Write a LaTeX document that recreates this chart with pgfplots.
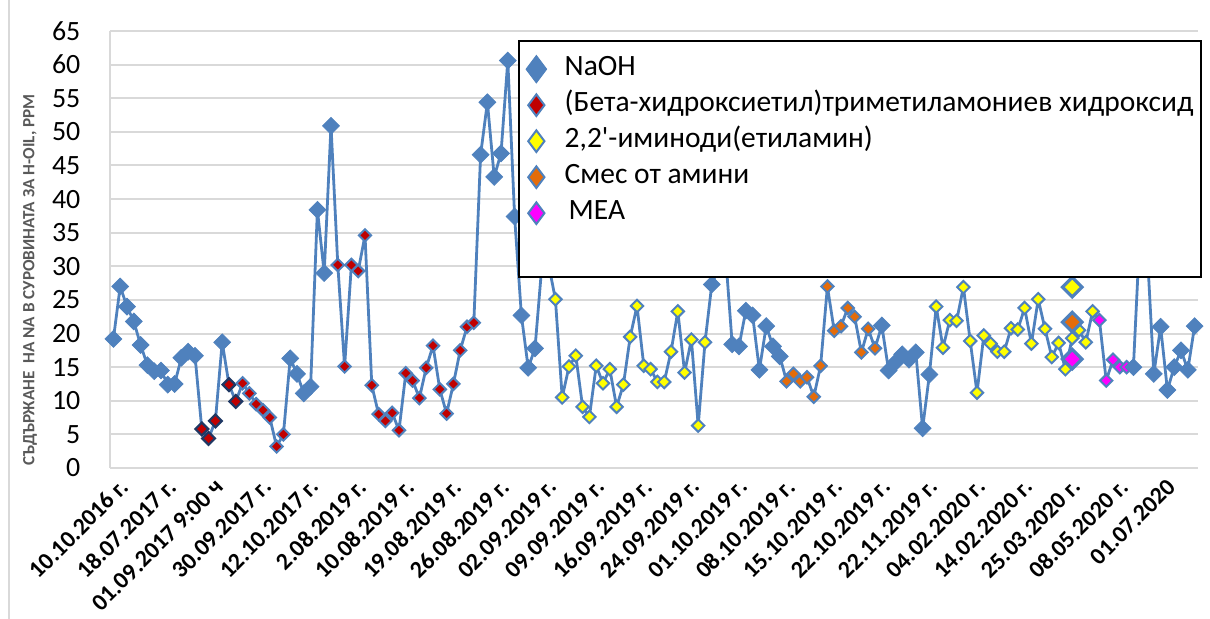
\documentclass[border=0pt]{standalone}
\usepackage{pgfplots}
\pgfplotsset{compat=1.18}
\usepackage{pgfplotstable}
\usepackage{fontspec}
\setmainfont{Carlito}

\definecolor{naoh}{HTML}{4F81BD}
\definecolor{betared}{HTML}{C00000}
\definecolor{darkedge}{HTML}{1F3864}
\definecolor{amineyellow}{HTML}{FFFF00}
\definecolor{mixorange}{HTML}{E46C0A}
\definecolor{meapink}{HTML}{FF00FF}
\definecolor{gridgray}{HTML}{D9D9D9}
\definecolor{titlegray}{HTML}{595959}

% square diamond, mark size = half diagonal
\pgfdeclareplotmark{sqdiamond}{%
  \pgfpathmoveto{\pgfqpoint{0pt}{\pgfplotmarksize}}%
  \pgfpathlineto{\pgfqpoint{\pgfplotmarksize}{0pt}}%
  \pgfpathlineto{\pgfqpoint{0pt}{-\pgfplotmarksize}}%
  \pgfpathlineto{\pgfqpoint{-\pgfplotmarksize}{0pt}}%
  \pgfpathclose
  \pgfusepathqfillstroke}

% Na content per sample; cls = reagent in use
% n NaOH, d/r beta-hydroxyethyl..., y 2,2'-iminodi(ethylamine), o amine mix, m MEA
\pgfplotstableread{
idx val cls
0 19.2 n
1 27.0 n
2 24.0 n
3 21.8 n
4 18.3 n
5 15.3 n
6 14.4 n
7 14.5 n
8 12.4 n
9 12.5 n
10 16.4 n
11 17.3 n
12 16.7 n
13 5.8 d
14 4.4 d
15 7.0 d
16 18.7 n
17 12.4 d
18 9.9 d
19 12.6 r
20 11.1 r
21 9.5 r
22 8.6 r
23 7.5 r
24 3.2 r
25 5.0 r
26 16.3 n
27 14.0 n
28 11.1 n
29 12.1 n
30 38.4 n
31 29.0 n
32 50.9 n
33 30.2 r
34 15.1 r
35 30.2 r
36 29.3 r
37 34.6 r
38 12.3 r
39 8.0 r
40 7.0 r
41 8.2 r
42 5.6 r
43 14.1 r
44 13.0 r
45 10.4 r
46 14.9 r
47 18.2 r
48 11.7 r
49 8.1 r
50 12.5 r
51 17.5 r
52 21.0 r
53 21.6 r
54 46.6 n
55 54.4 n
56 43.3 n
57 46.8 n
58 60.6 n
59 37.4 n
60 22.7 n
61 14.9 n
62 17.8 n
63 30.0 n
64 30.3 n
65 25.1 y
66 10.5 y
67 15.1 y
68 16.7 y
69 9.1 y
70 7.6 y
71 15.2 y
72 12.6 y
73 14.7 y
74 9.1 y
75 12.4 y
76 19.5 y
77 24.1 y
78 15.2 y
79 14.7 y
80 12.8 y
81 12.8 y
82 17.3 y
83 23.3 y
84 14.2 y
85 19.1 y
86 6.3 y
87 18.7 y
88 27.3 n
89 29.8 n
90 32.0 n
91 18.4 n
92 18.1 n
93 23.4 n
94 22.7 n
95 14.6 n
96 21.1 n
97 18.1 n
98 16.6 n
99 12.9 o
100 14.0 o
101 12.9 o
102 13.5 o
103 10.6 o
104 15.2 o
105 27.0 o
106 20.4 o
107 21.1 o
108 23.8 o
109 22.5 o
110 17.2 o
111 20.7 o
112 17.8 o
113 21.2 n
114 14.5 n
115 15.7 n
116 16.9 n
117 16.1 n
118 17.2 n
119 5.9 n
120 13.9 n
121 24.0 y
122 17.9 y
123 22.0 y
124 21.9 y
125 26.9 y
126 18.9 y
127 11.2 y
128 19.7 y
129 18.5 y
130 17.3 y
131 17.3 y
132 20.8 y
133 20.6 y
134 23.8 y
135 18.5 y
136 25.1 y
137 20.7 y
138 16.5 y
139 18.6 y
140 14.7 y
141 19.3 y
142 20.5 y
143 18.7 y
144 23.3 y
145 22.0 m
146 13.0 m
147 16.1 m
148 15.0 m
149 15.0 m
150 15.0 n
151 36.0 n
152 33.0 n
153 14.0 n
154 21.0 n
155 11.6 n
156 15.0 n
157 17.5 n
158 14.6 n
159 21.1 n
}\sodium

% repeated samples drawn with larger markers
\pgfplotstableread{
idx val cls
141 26.9 Y
141 21.7 O
141 16.2 M
}\repeats

\pgfplotsset{
  gem/.style={only marks, mark=diamond*,
    legend image code/.code={\draw[##1] plot coordinates {(0bp,0bp)};}},
}

\begin{document}
\begin{tikzpicture}
\begin{axis}[
  scale only axis, width=544bp, height=218.5bp,
  xmin=-0.5, xmax=159.5, ymin=0, ymax=65,
  ytick={0,5,...,65},
  xtick={0,7,...,154},
  xticklabels={10.10.2016 г.,18.07.2017 г.,01.09.2017 9:00 ч,30.09.2017 г.,12.10.2017 г.,2.08.2019 г.,10.08.2019 г.,19.08.2019 г.,26.08.2019 г.,02.09.2019 г.,09.09.2019 г.,16.09.2019 г.,24.09.2019 г.,01.10.2019 г.,08.10.2019 г.,15.10.2019 г.,22.10.2019 г.,22.11.2019 г.,04.02.2020 г.,14.02.2020 г.,25.03.2020 г.,08.05.2020 г.,01.07.2020},
  axis x line*=bottom, axis y line*=left,
  axis line style={gridgray, line width=1bp},
  major tick length=0pt,
  ymajorgrids, grid style={gridgray, line width=1bp},
  /pgf/number format/assume math mode=true,
  yticklabel style={font=\fontsize{14}{16}\selectfont, xshift=-11.3bp},
  xticklabel style={font=\bfseries\fontsize{12}{14}\selectfont, xshift=8bp, yshift=-5bp, rotate=45, anchor=east},
  ylabel={СЪДЪРЖАНЕ\ \ НА NA В СУРОВИНАТА ЗА H-OIL, PPM},
  ylabel style={at={(rel axis cs:-0.0735,0.43)}, anchor=center, font=\bfseries\fontsize{8.6}{9}\selectfont, text=titlegray},
  legend cell align=left,
  legend style={at={(0.375,0.979)}, anchor=north west, draw=black, line width=1bp, fill=white,
    font=\fontsize{14.8}{16}\selectfont, inner xsep=3.5bp, inner ysep=5bp, row sep=0pt,
    nodes={inner sep=0pt, text height=12bp, text depth=6bp},
    /tikz/every odd column/.append style={column sep=9bp}},
]
\coordinate (bbSW) at (rel axis cs:-0.10110,-0.34554);
\coordinate (bbNE) at (rel axis cs:1.01103,1.07094);
\coordinate (frTop) at (rel axis cs:-0.0928,1.07094);
\coordinate (frBot) at (rel axis cs:-0.0928,-0.34554);

\addplot[naoh, line width=1.4bp, line join=round, no markers, forget plot]
  table[x=idx, y=val] {\sodium};

\addplot[only marks, scatter, scatter src=explicit symbolic, forget plot,
  scatter/classes={
    n={mark=sqdiamond, mark size=4.2bp, fill=naoh, draw=naoh, line width=0.4bp},
    d={mark=sqdiamond, mark size=3.2bp, fill=betared, draw=darkedge, line width=1.1bp},
    r={mark=sqdiamond, mark size=3.1bp, fill=betared, draw=naoh, line width=1bp},
    y={mark=sqdiamond, mark size=3.1bp, fill=amineyellow, draw=naoh, line width=1bp},
    o={mark=sqdiamond, mark size=3.1bp, fill=mixorange, draw=naoh, line width=1bp},
    m={mark=sqdiamond, mark size=3.1bp, fill=meapink, draw=naoh, line width=1bp}}]
  table[x=idx, y=val, meta=cls] {\sodium};

\addplot[only marks, scatter, scatter src=explicit symbolic, forget plot,
  scatter/classes={
    Y={mark=sqdiamond, mark size=4.9bp, fill=amineyellow, draw=naoh, line width=1.6bp},
    O={mark=sqdiamond, mark size=4.9bp, fill=mixorange, draw=naoh, line width=1.6bp},
    M={mark=sqdiamond, mark size=4.9bp, fill=meapink, draw=naoh, line width=1.6bp}}]
  table[x=idx, y=val, meta=cls] {\repeats};

\addlegendimage{gem, mark size=6.9bp, mark options={fill=naoh, draw=naoh, line width=0.4bp}}
\addlegendentry{NaOH}
\addlegendimage{gem, mark size=5.4bp, mark options={fill=betared, draw=naoh, line width=1bp}}
\addlegendentry{(Бета-хидроксиетил)триметиламониев хидроксид\hspace{-3.5bp}}
\addlegendimage{gem, mark size=5.4bp, mark options={fill=amineyellow, draw=naoh, line width=1bp}}
\addlegendentry{2,2\textquotesingle-иминоди(етиламин)}
\addlegendimage{gem, mark size=5.4bp, mark options={fill=mixorange, draw=naoh, line width=1bp}}
\addlegendentry{Смес от амини}
\addlegendimage{gem, mark size=5.4bp, mark options={fill=meapink, draw=naoh, line width=1bp}}
\addlegendentry{\hspace{2bp}MEA}
\addlegendimage{empty legend}
\addlegendentry{}
\end{axis}
\draw[gridgray, line width=0.8bp] (frTop) -- (frBot);
\pgfresetboundingbox
\useasboundingbox (bbSW) rectangle (bbNE);
\end{tikzpicture}
\end{document}
